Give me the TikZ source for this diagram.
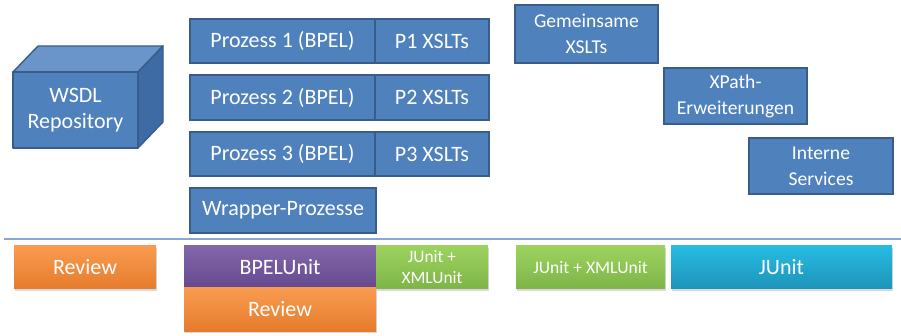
\documentclass[tikz,border=0pt]{standalone}
\usepackage{fontspec}
\setmainfont{Carlito}
\usetikzlibrary{calc,shadows}
\definecolor{boxblue}{HTML}{4F81BD}
\definecolor{boxedge}{HTML}{385D8A}
\definecolor{cubetop}{HTML}{6A95CA}
\definecolor{cubeside}{HTML}{3E6BA3}
\definecolor{sepline}{HTML}{8AA6D8}
\definecolor{orangetop}{HTML}{F99B50}
\definecolor{orangebot}{HTML}{E57C2C}
\definecolor{purpletop}{HTML}{8466AA}
\definecolor{purplebot}{HTML}{654A8F}
\definecolor{greentop}{HTML}{9CD35F}
\definecolor{greenbot}{HTML}{7DB447}
\definecolor{cyantop}{HTML}{27BCE2}
\definecolor{cyanbot}{HTML}{1E93B9}
\tikzset{
  base/.style={anchor=north west, inner sep=0pt, outer sep=0pt, text=white, align=center},
  bluebox/.style={base, fill=boxblue, draw=boxedge, line width=1.4pt,
    drop shadow={opacity=0.25, shadow xshift=1pt, shadow yshift=-1.5pt}},
  tbox/.style={base, draw=none,
    drop shadow={opacity=0.3, shadow xshift=1pt, shadow yshift=-2pt}},
  orangebox/.style={tbox, top color=orangetop, bottom color=orangebot},
  purplebox/.style={tbox, top color=purpletop, bottom color=purplebot},
  greenbox/.style={tbox, top color=greentop, bottom color=greenbot},
  cyanbox/.style={tbox, top color=cyantop, bottom color=cyanbot},
  big/.style={font=\fontsize{22}{26}\selectfont},
  mid/.style={font=\fontsize{19.6}{26}\selectfont},
  small/.style={font=\fontsize{17.6}{21}\selectfont},
  tiny/.style={font=\fontsize{17.4}{21}\selectfont},
}
\begin{document}
\begin{tikzpicture}[x=1pt,y=-1pt]
\useasboundingbox (0,0) rectangle (901,336);

% WSDL repository cube
\node[base, big, fill=boxblue, minimum width=125pt, minimum height=76pt] (cube) at (13,72)
  {WSDL\\Repository};
\coordinate (ctl) at ($(cube.north west)+(25,-26)$);
\coordinate (ctr) at ($(cube.north east)+(25,-26)$);
\coordinate (cbr) at ($(cube.south east)+(25,-26)$);
\filldraw[fill=cubetop, draw=boxedge, line width=1.4pt, line join=round]
  (cube.north west) -- (ctl) -- (ctr) -- (cube.north east) -- cycle;
\filldraw[fill=cubeside, draw=boxedge, line width=1.4pt, line join=round]
  (cube.north east) -- (ctr) -- (cbr) -- (cube.south east) -- cycle;
\draw[boxedge, line width=1.4pt, line join=round] (cube.north west) rectangle (cube.south east);

% processes and their XSLTs
\node[bluebox, big, minimum width=185pt, minimum height=44pt] (p1) at (190,19) {Prozess 1 (BPEL)};
\node[bluebox, big, minimum width=114pt, minimum height=44pt] (x1) at (p1.north east) {P1 XSLTs};
\node[bluebox, big, minimum width=185pt, minimum height=45pt] (p2) at (190,75) {Prozess 2 (BPEL)};
\node[bluebox, big, minimum width=114pt, minimum height=45pt] (x2) at (p2.north east) {P2 XSLTs};
\node[bluebox, big, minimum width=185pt, minimum height=44pt] (p3) at (190,132) {Prozess 3 (BPEL)};
\node[bluebox, big, minimum width=114pt, minimum height=44pt] (x3) at (p3.north east) {P3 XSLTs};
\node[bluebox, big, minimum width=186pt, minimum height=45pt] (wrap) at (190,188) {Wrapper-Prozesse};

% shared components
\node[bluebox, mid, minimum width=143pt, minimum height=58pt] (gem) at (515,5) {Gemeinsame\\XSLTs};
\node[bluebox, mid, minimum width=143pt, minimum height=56pt] (xpath) at (664,68) {XPath-\\Erweiterungen};
\node[bluebox, mid, minimum width=144pt, minimum height=56pt] (srv) at (749,138) {Interne\\Services};

% separator
\coordinate (sepL) at (4,239);
\coordinate (sepR) at (901,239);
\draw[sepline, line width=1.5pt] (sepL) -- (sepR);

% test tools
\node[orangebox, big, minimum width=142pt, minimum height=43pt] (rev1) at (14,246) {Review};
\node[purplebox, big, minimum width=192pt, minimum height=42pt] (bpelunit) at (184,246) {BPELUnit};
\node[orangebox, big, minimum width=192pt, minimum height=43pt] (rev2) at (bpelunit.south west) {Review};
\node[greenbox, tiny, minimum width=112pt, minimum height=43pt] (jx1) at (bpelunit.north east) {JUnit +\\XMLUnit};
\node[greenbox, small, minimum width=149pt, minimum height=43pt] (jx2) at (516,246) {JUnit + XMLUnit};
\node[cyanbox, big, minimum width=221pt, minimum height=43pt] (junit) at (671,246) {JUnit};
\end{tikzpicture}
\end{document}
